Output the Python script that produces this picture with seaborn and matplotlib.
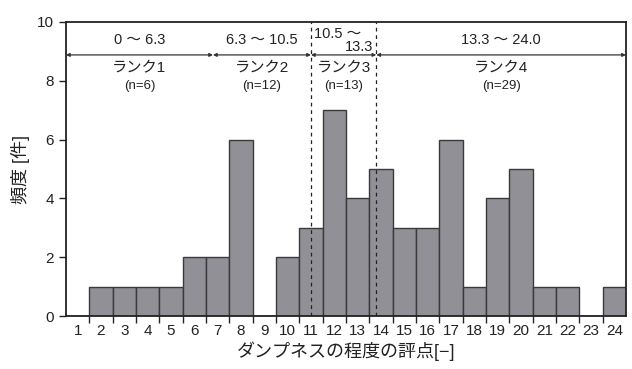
import pandas as pd
import matplotlib
matplotlib.use('Agg')
import matplotlib.pyplot as plt
import seaborn as sns

# Score bins and frequency counts
scores = list(range(1, 25))
counts = [0, 1, 1, 1, 1, 2, 2, 6, 0, 2, 3, 7, 4, 5, 3, 3, 6, 1, 4, 5, 1, 1, 0, 1]

# Rank boundaries (score values) and labels
rank_bounds = [0.0, 6.3, 10.5, 13.3, 24.0]
rank_names = ['ランク1', 'ランク2', 'ランク3', 'ランク4']
rank_counts = ['(n=6)', '(n=12)', '(n=13)', '(n=29)']
range_labels = ['0 ～ 6.3', '6.3 ～ 10.5', None, '13.3 ～ 24.0']

df = pd.DataFrame({'score': scores, 'count': counts})

sns.set_style('ticks')
plt.rcParams['font.family'] = ['Liberation Sans', 'Noto Sans CJK JP', 'DejaVu Sans']

fig = plt.figure(figsize=(6.32, 3.69), dpi=100)
ax = fig.add_axes([0.1044, 0.1436, 0.886, 0.7968])

sns.barplot(data=df, x='score', y='count', native_scale=True, width=1,
            color='#909096', saturation=1, edgecolor='#3a3a3a', linewidth=1, ax=ax)

ax.set_xlim(0.5, 24.5)
ax.set_ylim(0, 10)
ax.set_yticks([0, 2, 4, 6, 8, 10])
ax.set_xticks(scores)
ax.set_xticks([s + 0.5 for s in scores[:-1]], minor=True)
ax.tick_params(axis='x', which='major', length=0, labelsize=11, pad=6, colors='#222222')
ax.tick_params(axis='x', which='minor', length=5, width=1, direction='out')
ax.tick_params(axis='y', length=5, width=1, labelsize=11, colors='#222222')
for s in ax.spines.values():
    s.set_visible(True)
    s.set_linewidth(1.3)
    s.set_color('#222222')

ax.set_xlabel('ダンプネスの程度の評点[−]', fontsize=13, labelpad=2, color='#222222')
ax.set_ylabel('頻度 [件]', fontsize=13, labelpad=5, color='#222222')

# bar i covers score (i-1, i], so a score value s sits at x = s + 0.5
bx = [b + 0.5 for b in rank_bounds]
for x in bx[2:4]:
    ax.axvline(x, color='#222222', lw=0.9, ls=(0, (3, 3)), zorder=5)

arrow_y = 8.88
for i in range(4):
    x0, x1 = bx[i], bx[i + 1]
    ax.annotate('', xy=(x1, arrow_y), xytext=(x0, arrow_y),
                arrowprops=dict(arrowstyle='<|-|>', lw=0.9, color='#333333',
                                mutation_scale=5, shrinkA=0, shrinkB=0))
    cx = (x0 + x1) / 2
    ax.text(cx, 8.42, rank_names[i], ha='center', va='center', fontsize=11, color='#222222')
    ax.text(cx, 7.84, rank_counts[i], ha='center', va='center', fontsize=9.5, color='#222222')
    if range_labels[i]:
        ax.text(cx, 9.4, range_labels[i], ha='center', va='center', fontsize=10.5, color='#222222')

ax.text(bx[2] + 0.15, 9.6, '10.5 ～', ha='left', va='center', fontsize=10.5, color='#222222')
ax.text(bx[3] - 0.12, 9.15, '13.3', ha='right', va='center', fontsize=10.5, color='#222222')

fig.savefig('out.png', dpi=100)
